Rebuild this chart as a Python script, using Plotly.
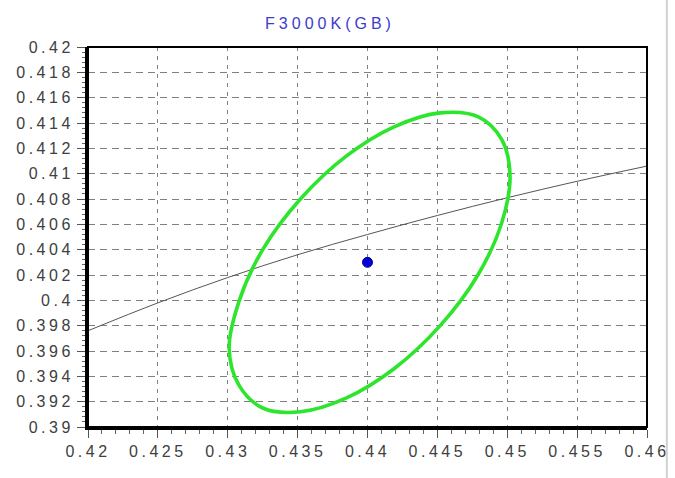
import plotly.graph_objects as go

title_text = "F3000K(GB)"

# Ellipse outline (chromaticity x, y)
ellipse_x = [0.4502, 0.4496, 0.4479, 0.4452, 0.4419, 0.4385, 0.4352, 0.4325, 0.4308,
             0.4301, 0.4308, 0.4325, 0.4352, 0.4385, 0.4419, 0.4452, 0.4479, 0.4496, 0.4502]
ellipse_y = [0.4098, 0.4061, 0.4020, 0.3980, 0.3946, 0.3923, 0.3912, 0.3915, 0.3933,
             0.3962, 0.3999, 0.4040, 0.4080, 0.4114, 0.4137, 0.4148, 0.4145, 0.4127, 0.4098]

# Black locus line
locus_x = [0.42, 0.425, 0.43, 0.435, 0.44, 0.445, 0.45, 0.455, 0.46]
locus_y = [0.3976, 0.3998, 0.4018, 0.4036, 0.4052, 0.4067, 0.4081, 0.4094, 0.4106]

# Center point
point_x = [0.440]
point_y = [0.4030]

# Ticks
x_ticks = [0.42, 0.425, 0.43, 0.435, 0.44, 0.445, 0.45, 0.455, 0.46]
x_tick_labels = ["0.42", "0.425", "0.43", "0.435", "0.44", "0.445", "0.45", "0.455", "0.46"]
y_ticks = [0.39, 0.392, 0.394, 0.396, 0.398, 0.4, 0.402, 0.404, 0.406, 0.408,
           0.41, 0.412, 0.414, 0.416, 0.418, 0.42]
y_tick_labels = ["0.39", "0.392", "0.394", "0.396", "0.398", "0.4", "0.402", "0.404", "0.406",
                 "0.408", "0.41", "0.412", "0.414", "0.416", "0.418", "0.42"]

fig = go.Figure()
fig.add_trace(go.Scatter(x=locus_x, y=locus_y, mode="lines",
                         line=dict(color="#555555", width=1, shape="spline"),
                         hoverinfo="skip", showlegend=False))
fig.add_trace(go.Scatter(x=ellipse_x, y=ellipse_y, mode="lines",
                         line=dict(color="#2ee52e", width=3.6, shape="spline", smoothing=1.0),
                         showlegend=False))
fig.add_trace(go.Scatter(x=point_x, y=point_y, mode="markers",
                         marker=dict(color="#0000dd", size=10, line=dict(color="#000088", width=1)),
                         showlegend=False))

tickfont = dict(family="Liberation Sans, Arial, sans-serif", size=16, color="#404040")

fig.update_layout(
    width=675, height=478,
    margin=dict(l=88, r=23, t=47, b=51),
    paper_bgcolor="white", plot_bgcolor="white",
    title=dict(text=title_text, x=330 / 675, xref="container", xanchor="center",
               y=1 - 23 / 478, yref="container", yanchor="middle",
               font=dict(family="Liberation Sans, Arial, sans-serif", size=16, color="#3b3bd0")),
    xaxis=dict(range=[0.42, 0.46], tickmode="array", tickvals=x_ticks, ticktext=x_tick_labels,
               showgrid=True, gridcolor="#808080", gridwidth=1.3, griddash="4px,5px",
               showline=True, linecolor="black", linewidth=3, mirror=False,
               ticks="outside", ticklen=8, tickcolor="#555555", tickwidth=1,
               minor=dict(tickmode="linear", tick0=0.42, dtick=0.001, ticks="outside",
                          ticklen=4, tickcolor="#666666", showgrid=False),
               tickfont=tickfont, zeroline=False, fixedrange=True),
    yaxis=dict(range=[0.39, 0.42], tickmode="array", tickvals=y_ticks, ticktext=y_tick_labels,
               showgrid=True, gridcolor="#808080", gridwidth=1.3, griddash="7px,5px",
               showline=True, linecolor="black", linewidth=3, mirror=False,
               ticks="outside", ticklen=8, tickcolor="#555555", tickwidth=1,
               minor=dict(tickmode="linear", tick0=0.39, dtick=0.0004, ticks="outside",
                          ticklen=3, tickcolor="#666666", showgrid=False),
               tickfont=tickfont, zeroline=False, fixedrange=True),
    shapes=[
        dict(type="rect", xref="paper", yref="paper", x0=0, x1=1, y0=0, y1=1,
             line=dict(color="black", width=2), fillcolor="rgba(0,0,0,0)", layer="above"),
        dict(type="line", xref="paper", yref="paper", x0=(672 - 88) / 564, x1=(672 - 88) / 564,
             y0=-51 / 380, y1=1 + 47 / 380, line=dict(color="#d0d0d0", width=2)),
    ],
)

post = """
document.body.style.margin = '0';
document.body.style.padding = '0';
var gd = document.getElementById('{plot_id}');
function ls(){
  gd.querySelectorAll('.xtick text, .ytick text').forEach(function(t){ t.style.letterSpacing = '3.5px'; });
  var tt = gd.querySelector('.gtitle'); if (tt) { tt.style.letterSpacing = '4px'; }
}
ls();
if (gd.on) { gd.on('plotly_afterplot', ls); }
"""

fig.write_html("out.html", config={"displayModeBar": False}, post_script=post)
